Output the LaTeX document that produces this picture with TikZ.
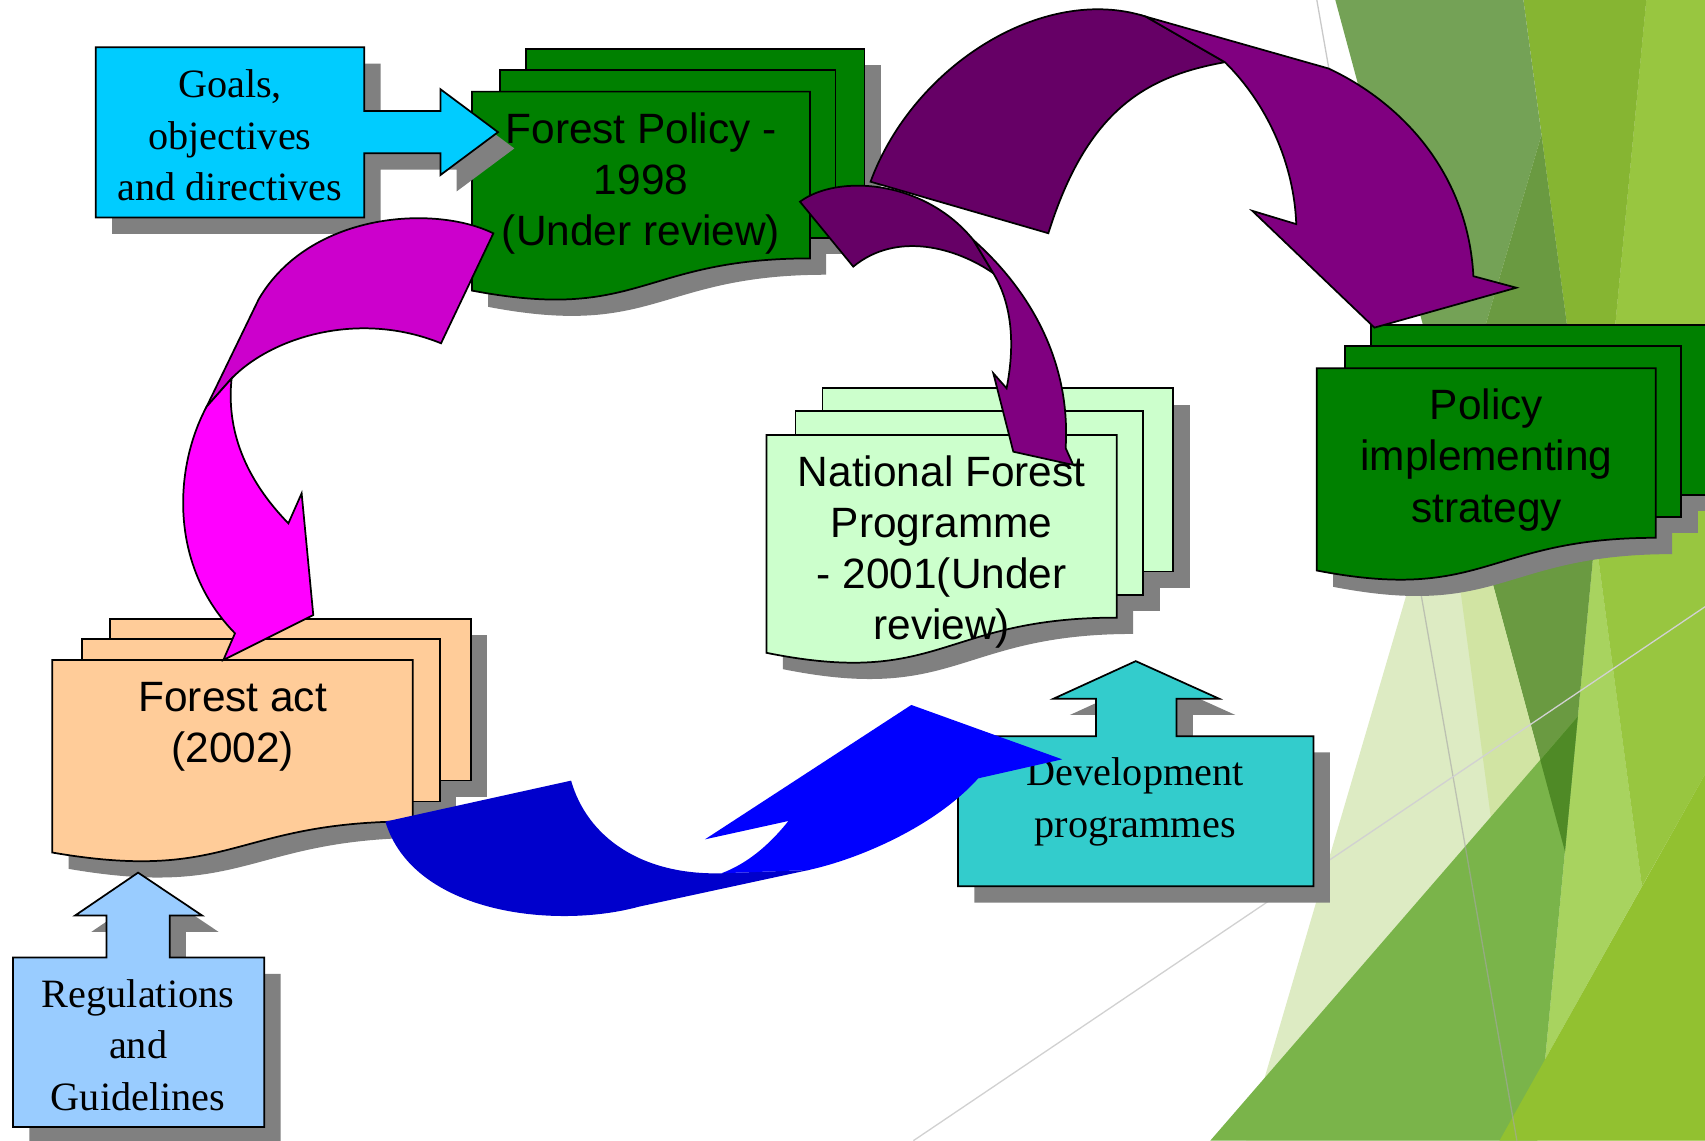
\documentclass[tikz,border=0pt]{standalone}
\usepackage{fontspec}
\setmainfont{Liberation Serif}
\setsansfont{Liberation Sans}
\usetikzlibrary{positioning}

\definecolor{shadowgray}{HTML}{808080}
\definecolor{fpgreen}{HTML}{008000}
\definecolor{nfpgreen}{HTML}{CCFFCC}
\definecolor{actpeach}{HTML}{FFCC99}
\definecolor{goalcyan}{HTML}{00CCFF}
\definecolor{devcyan}{HTML}{33CCCC}
\definecolor{regblue}{HTML}{99CCFF}
\definecolor{magback}{HTML}{CC00CC}
\definecolor{magfront}{HTML}{FF00FF}
\definecolor{purpback}{HTML}{660066}
\definecolor{purpfront}{HTML}{800080}
\definecolor{bluback}{HTML}{0000CC}
\definecolor{blufront}{HTML}{0000FF}
% background facets
\definecolor{bgpale}{HTML}{DDEBC3}
\definecolor{bgpaletwo}{HTML}{D1E4A3}
\definecolor{bgmuted}{HTML}{74A256}
\definecolor{bgdark}{HTML}{6A9A41}
\definecolor{bgyg}{HTML}{86B532}
\definecolor{bglight}{HTML}{98C640}
\definecolor{bgband}{HTML}{A8D35F}
\definecolor{bgmid}{HTML}{7AB44A}
\definecolor{bgdeep}{HTML}{4F8A26}
\definecolor{bglime}{HTML}{92C130}

% stack of three sheets: x, y, width, height, fill
\newcommand{\docstack}[5]{%
  \begin{scope}[shift={(#1+15,#2+15)}, xscale=#3, yscale=#4]
    \fill[shadowgray] (0.1376,0) rectangle (1,0.666);
    \fill[shadowgray] (0.0709,0.084) rectangle (0.926,0.752);
    \fill[shadowgray] (0,0.17) -- (0.861,0.17) -- (0.861,0.834)
      .. controls (0.43,0.834) and (0.43,1.09) .. (0,0.962) -- cycle;
  \end{scope}
  \begin{scope}[shift={(#1,#2)}, xscale=#3, yscale=#4]
    \filldraw[sheet, fill=#5] (0.1376,0) rectangle (1,0.666);
    \filldraw[sheet, fill=#5] (0.0709,0.084) rectangle (0.926,0.752);
    \filldraw[sheet, fill=#5] (0,0.17) -- (0.861,0.17) -- (0.861,0.834)
      .. controls (0.43,0.834) and (0.43,1.09) .. (0,0.962) -- cycle;
  \end{scope}}

\begin{document}
\begin{tikzpicture}[x=0.5pt, y=-0.5pt,
  sheet/.style = {draw=black, line width=0.8pt},
  blockline/.style = {draw=black, line width=0.8pt},
  doctext/.style = {font=\sffamily\fontsize{19.5}{23.5}\selectfont, align=center, inner sep=0pt},
  boxtext/.style = {font=\rmfamily\fontsize{18.5}{23.75}\selectfont, align=center, inner sep=0pt}
]

  \useasboundingbox (0,0) rectangle (1568,1049);
  \clip (0,0) rectangle (1568,1049);
  \fill[white] (0,0) rectangle (1568,1049);

  % Background facets
  \fill[bgpale] (1454,0) -- (1568,0) -- (1568,1049) -- (1146,1049) -- cycle;
  \fill[bgband] (1467,492) -- (1510,815) -- (1421,974) -- cycle;
  \fill[bglight] (1514,0) -- (1568,0) -- (1568,712) -- (1510,815) -- (1467,492) -- cycle;
  \fill[bgyg] (1401,0) -- (1514,0) -- (1467,492) -- cycle;
  \fill[bgmuted] (1228,0) -- (1401,0) -- (1417.6,124) -- (1336.2,401.2) -- cycle;
  \fill[bgdark] (1417.6,124) -- (1467,492) -- (1439.2,783) -- (1336.2,401.2) -- cycle;
  \fill[bgpaletwo] (1336.2,401.2) -- (1416.5,699) -- (1371,751.4) -- (1327.9,429.6) -- cycle;
  \fill[bgmid] (1113,1049) -- (1451,659) -- (1413.8,1049) -- cycle;
  \fill[bgdeep] (1416.5,699) -- (1451,659) -- (1439.2,783) -- cycle;
  \fill[bglime] (1379,1049) -- (1568,712) -- (1568,1049) -- cycle;
  \draw[line width=0.6pt, gray!70, opacity=0.6] (1211,0) -- (1395,1049);
  \draw[line width=0.6pt, black!18] (840,1049) -- (1568,558);

  % Forest Policy
  \docstack{434}{45}{361}{231}{fpgreen}
  \node[doctext] (fpolicy) at (589.5,169) {Forest Policy -\\1998\\(Under review)};

  % National Forest Programme
  \docstack{705}{357}{374}{253}{nfpgreen}
  \node[doctext] (nfp) at (866,507.5) {National Forest\\Programme\\- 2001(Under\\review)};

  % Policy implementing strategy
  \docstack{1211}{298.6}{362}{235}{fpgreen}
  \node[doctext] (pistrat) at (1367,423) {Policy\\implementing\\strategy};

  % Forest act
  \docstack{48}{569}{385}{223.5}{actpeach}
  \node[doctext] (fact) at (214,668) {Forest act\\(2002)};

  % Goals -> Forest Policy
  \fill[shadowgray, shift={(15,15)}] (88,43.5) -- (335,43.5) -- (335,102) -- (405,102) -- (405,82)
    -- (458,121.5) -- (405,161) -- (405,141) -- (335,141) -- (335,200) -- (88,200) -- cycle;
  \filldraw[blockline, fill=goalcyan] (88,43.5) -- (335,43.5) -- (335,102) -- (405,102) -- (405,82)
    -- (458,121.5) -- (405,161) -- (405,141) -- (335,141) -- (335,200) -- (88,200) -- cycle;
  \node[boxtext] (goals) at (211.5,124.5) {Goals,\\objectives\\and directives};

  % Development programmes -> National Forest Programme
  \fill[shadowgray, shift={(15,15)}] (881,677) -- (1008,677) -- (1008,642.5) -- (969,642.5)
    -- (1044.5,608) -- (1121,642.5) -- (1082,642.5) -- (1082,677) -- (1208,677) -- (1208,815) -- (881,815) -- cycle;
  \filldraw[blockline, fill=devcyan] (881,677) -- (1008,677) -- (1008,642.5) -- (969,642.5)
    -- (1044.5,608) -- (1121,642.5) -- (1082,642.5) -- (1082,677) -- (1208,677) -- (1208,815) -- (881,815) -- cycle;
  \node[boxtext] (devprog) at (1044,737.5) {Development\\programmes};

  % Regulations -> Forest act
  \fill[shadowgray, shift={(15,15)}] (12,880.5) -- (98,880.5) -- (98,842) -- (69,842) -- (127,802.5)
    -- (186,842) -- (156,842) -- (156,880.5) -- (243,880.5) -- (243,1036.5) -- (12,1036.5) -- cycle;
  \filldraw[blockline, fill=regblue] (12,880.5) -- (98,880.5) -- (98,842) -- (69,842) -- (127,802.5)
    -- (186,842) -- (156,842) -- (156,880.5) -- (243,880.5) -- (243,1036.5) -- (12,1036.5) -- cycle;
  \node[boxtext] (regs) at (127,961) {Regulations\\and\\Guidelines};

  % Forest Policy -> Forest act
  \filldraw[blockline, fill=magback] (453.7,214.6) .. controls (400,188) and (285,195) .. (238,275)
    -- (190,374) -- (213,348) .. controls (250,310) and (330,285) .. (405.6,315.7) -- cycle;
  \filldraw[blockline, fill=magfront] (190,374) .. controls (160,430) and (155,520) .. (216.1,582.4)
    -- (205.4,607) -- (288.1,565.6) -- (277.4,453.7) -- (265.2,481.3)
    .. controls (225,440) and (208,395) .. (213,348) -- cycle;

  % Forest Policy -> Policy implementing strategy
  \filldraw[blockline, fill=purpback] (800.6,167.1) .. controls (840,60) and (960,-15) .. (1053.8,15.3)
    -- (1126.5,57.2) .. controls (1055,70) and (1000,100) .. (964.1,214.5) -- cycle;
  \filldraw[blockline, fill=purpfront] (1053.8,15.3) -- (1221.8,63) .. controls (1290,95) and (1350,160) .. (1355,254)
    -- (1394.5,264.6) -- (1264,301.3) -- (1151.7,193.9) -- (1192.1,206.1)
    .. controls (1190,150) and (1165,95) .. (1126.5,57.2) -- cycle;

  % Forest Policy -> National Forest Programme
  \filldraw[blockline, fill=purpback] (735.7,185.5) .. controls (770,160) and (850,165) .. (895.1,220.7)
    -- (913.5,251.3) .. controls (880,228) and (825,212) .. (784.7,245.2) -- cycle;
  \filldraw[blockline, fill=purpfront] (895.1,220.7) .. controls (945,265) and (985,330) .. (980,412)
    -- (987,427.6) -- (931.9,415.4) -- (913.5,343.3) -- (925.7,357.1)
    .. controls (935,310) and (928,275) .. (913.5,251.3) -- cycle;

  % Forest act -> Development programmes
  \fill[bluback] (354.4,755.6) -- (525.2,717.9) .. controls (540,770) and (590,805) .. (663.5,803.1)
    -- (743.6,800.1) -- (587.6,833.8) .. controls (510,855) and (380,840) .. (354.4,755.6) -- cycle;
  \fill[blufront] (663.5,803.1) -- (743.6,800.1) .. controls (790,790) and (860,760) .. (899.6,715.8)
    -- (976.8,698.3) -- (838.1,648.3) -- (648.3,771.9) -- (725.1,755)
    .. controls (705,780) and (685,795) .. (663.5,803.1) -- cycle;

\end{tikzpicture}
\end{document}
